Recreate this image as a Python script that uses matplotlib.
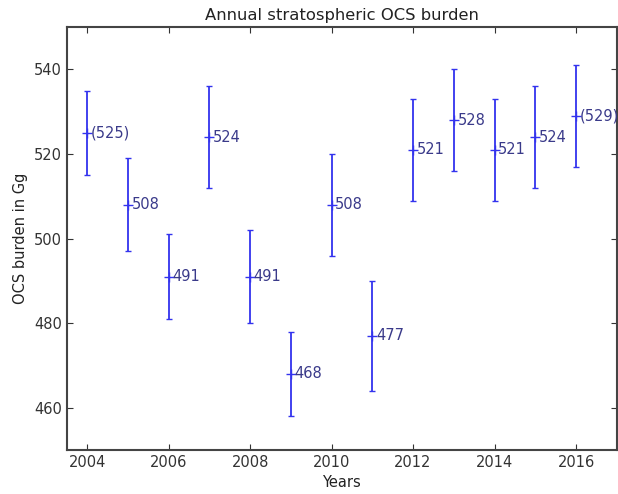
import matplotlib
matplotlib.use("Agg")
import matplotlib.pyplot as plt

years = [2004, 2005, 2006, 2007, 2008, 2009, 2010, 2011, 2012, 2013, 2014, 2015, 2016]
burden = [525, 508, 491, 524, 491, 468, 508, 477, 521, 528, 521, 524, 529]
err = [10, 11, 10, 12, 11, 10, 12, 13, 12, 12, 12, 12, 12]
labels = ["(525)", "508", "491", "524", "491", "468", "508", "477", "521", "528", "521", "524", "(529)"]

plt.rcParams['font.family'] = ['DejaVu Sans']
fig = plt.figure(figsize=(6.18, 4.94), dpi=100)
ax = fig.add_axes([0.108, 0.089, 0.89, 0.856])

ax.errorbar(years, burden, yerr=err, fmt='+', color='#3333ee', ecolor='#3333ee',
            elinewidth=1.3, capsize=2.5, capthick=1.2, markersize=7, mew=1.0)
for x, y, t in zip(years, burden, labels):
    ax.text(x + 0.09, y, t, color='#3a3a8a', fontsize=10.5, va='center', ha='left')

ax.set_xlim(2003.5, 2017)
ax.set_ylim(450, 550)
ax.set_xticks([2004, 2006, 2008, 2010, 2012, 2014, 2016])
ax.set_yticks([460, 480, 500, 520, 540])
ax.tick_params(direction='in', top=True, right=True, labelsize=10.5, colors='#333333', length=4)
for s in ax.spines.values():
    s.set_color('#444444')
    s.set_linewidth(1.5)
ax.set_title("Annual stratospheric OCS burden", fontsize=11.8, color='#222222', pad=5)
ax.set_xlabel("Years", fontsize=10.5, color='#222222')
ax.set_ylabel("OCS burden in Gg", fontsize=10.5, color='#222222')

fig.savefig("out.png", dpi=100)
